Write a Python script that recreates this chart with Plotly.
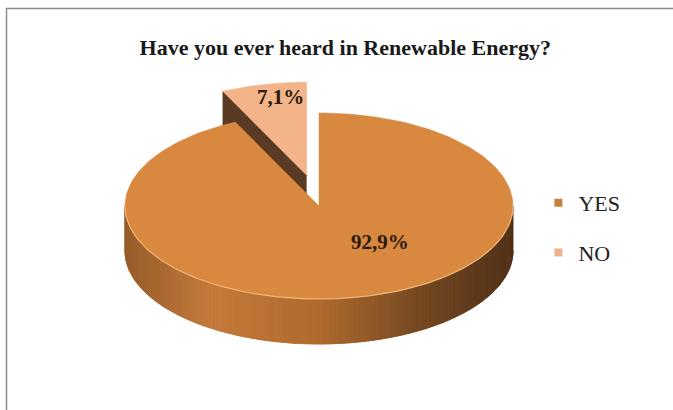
import numpy as np
import plotly.graph_objects as go

# Survey answers
categories = ["YES", "NO"]
shares = [92.9, 7.1]

title_text = "Have you ever heard in Renewable Energy?"

top_colors = ["#D8883F", "#F3B48A"]
legend_colors = ["#C97F3E", "#EDB18E"]
cut_color = "#5A3A22"

W, H = 673, 410
FONT = "Liberation Serif, Times New Roman, serif"

# Pie geometry, expressed in units of the horizontal radius
CX_PX, CY_PX, RX_PX = 319, 206, 194
TILT = 93 / 194          # vertical squash of the tilted disc
DEPTH = 45 / 194         # thickness of the disc
PULL = [0.0, 0.34]       # exploded distance per slice

x_range = [-CX_PX / RX_PX, (W - CX_PX) / RX_PX]
y_range = [-(H - CY_PX) / RX_PX, CY_PX / RX_PX]


def rim(phi, off, drop=0.0):
    p = np.radians(phi)
    return off[0] + np.sin(p), off[1] + TILT * np.cos(p) - drop


def side_shade(x):
    # lighter on the left of the side wall, dark brown towards the right
    t = (x + 1) / 2
    stops = [(0.0, (150, 92, 42)), (0.22, (196, 122, 58)), (0.5, (176, 106, 46)),
             (0.75, (118, 73, 34)), (1.0, (78, 48, 24))]
    for (t0, c0), (t1, c1) in zip(stops[:-1], stops[1:]):
        if t <= t1:
            f = (t - t0) / (t1 - t0)
            c = [round(a + (b - a) * f) for a, b in zip(c0, c1)]
            return "rgb({},{},{})".format(*c)
    return "rgb({},{},{})".format(*stops[-1][1])


# angular extents, clockwise from twelve o'clock
total = sum(shares)
ends = np.cumsum([s / total * 360 for s in shares])
starts = np.concatenate([[0.0], ends[:-1]])
mids = (starts + ends) / 2

fig = go.Figure()


def poly(xs, ys, color, line_w=0.6):
    fig.add_trace(go.Scatter(
        x=list(xs), y=list(ys), mode="lines", fill="toself",
        fillcolor=color, line=dict(color=color, width=line_w),
        hoverinfo="skip", showlegend=False))


# draw back slices first
order = sorted(range(len(shares)), key=lambda i: -np.cos(np.radians(mids[i])))
for i in order:
    s, e, m = starts[i], ends[i], mids[i]
    pm = np.radians(m)
    off = (PULL[i] * np.sin(pm) * 0.85, PULL[i] * TILT * np.cos(pm))

    # cut faces turned towards the viewer
    for ang, visible in ((s, np.sin(np.radians(s)) < -1e-9),
                         (e, np.sin(np.radians(e)) > 1e-9)):
        if visible:
            rx, ry = rim(ang, off)
            poly([off[0], rx, rx, off[0]],
                 [off[1], ry, ry - DEPTH, off[1] - DEPTH], cut_color)

    # front side wall: a base band, then shaded strips over it
    a0, a1 = max(s, 90.0), min(e, 270.0)
    if a1 > a0:
        band = np.linspace(a0, a1, 200)
        bx, by = rim(band, off)
        poly(np.concatenate([bx, bx[::-1]]),
             np.concatenate([by, (by - DEPTH)[::-1]]), side_shade(0.0), line_w=0.5)
        edges = np.linspace(a0, a1, 121)
        for p0, p1 in zip(edges[:-1], edges[1:]):
            x0, y0 = rim(p0, off)
            x1, y1 = rim(p1, off)
            poly([x0, x1, x1, x0], [y0, y1, y1 - DEPTH, y0 - DEPTH],
                 side_shade((x0 + x1) / 2), line_w=0.8)

    # top face
    arc = np.linspace(s, e, 240)
    ax, ay = rim(arc, off)
    poly(np.concatenate([[off[0]], ax, [off[0]]]),
         np.concatenate([[off[1]], ay, [off[1]]]), top_colors[i], line_w=0.5)

    # soft highlight along the front rim
    if a1 > a0:
        hx, hy = rim(np.linspace(a0, a1, 120), off)
        fig.add_trace(go.Scatter(x=hx, y=hy, mode="lines",
                                 line=dict(color="rgba(246,190,130,0.85)", width=1.2),
                                 hoverinfo="skip", showlegend=False))

# legend entries
for cat, col in zip(categories, legend_colors):
    fig.add_trace(go.Scatter(
        x=[None], y=[None], mode="markers", name=cat, legendgroup=cat,
        marker=dict(symbol="square", size=8, color=col)))

# percentage labels
label_pos = [(0.314, -0.186), (-0.196, 0.562)]
for (lx, ly), v in zip(label_pos, shares):
    fig.add_annotation(x=lx, y=ly, text=f"{v:.1f}%".replace(".", ","),
                       showarrow=False,
                       font=dict(family=FONT, size=21, color="#2A1A10", weight="bold"))

# chart frame
fig.add_shape(type="rect", xref="paper", yref="paper",
              x0=6.5 / W, x1=1.02, y0=-0.02, y1=1 - 8.5 / H,
              line=dict(color="#8C8C8C", width=1.5), fillcolor="rgba(0,0,0,0)",
              layer="above")

fig.update_layout(
    width=W, height=H,
    margin=dict(l=0, r=0, t=0, b=0),
    paper_bgcolor="white", plot_bgcolor="white",
    title=dict(text=f"<b>{title_text}</b>", x=0.513, xanchor="center",
               y=1 - 47 / H, yanchor="middle",
               font=dict(family=FONT, size=22, color="#1A1A1A")),
    xaxis=dict(range=x_range, visible=False, fixedrange=True),
    yaxis=dict(range=y_range, visible=False, fixedrange=True),
    showlegend=True,
    legend=dict(x=0.80, y=1 - 182 / H, xanchor="left", yanchor="top",
                traceorder="grouped", tracegroupgap=18,
                font=dict(family=FONT, size=22, color="#222222"),
                bgcolor="rgba(0,0,0,0)", itemwidth=30),
)

fig.write_html("out.html")
